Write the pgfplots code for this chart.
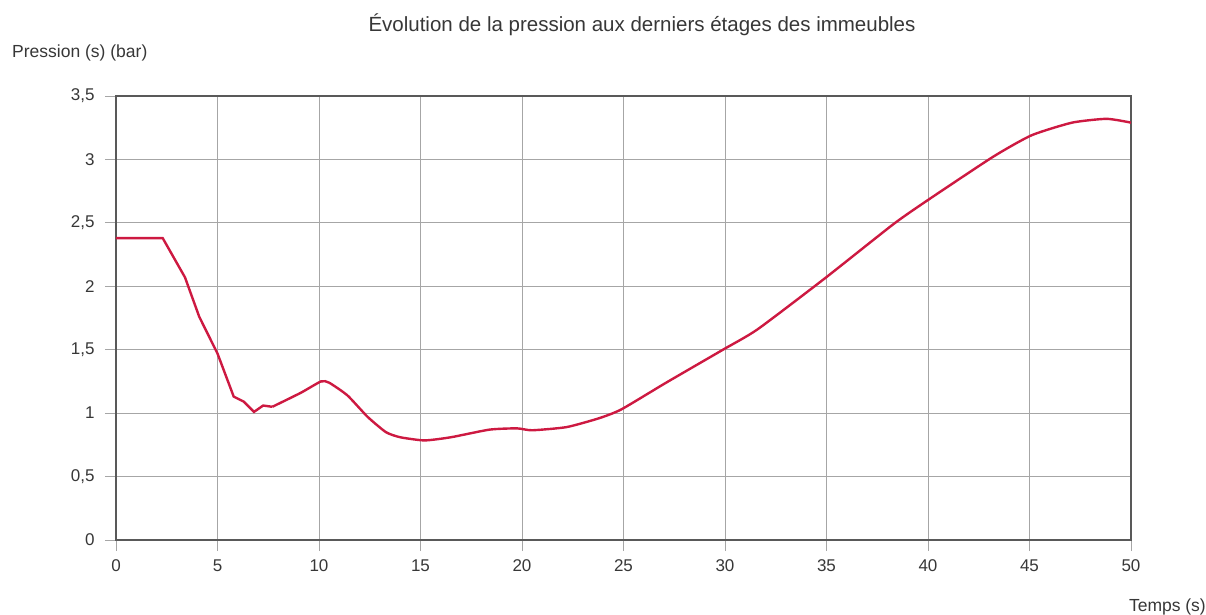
\documentclass[border=0pt]{standalone}
\usepackage{pgfplots}
\pgfplotsset{compat=1.18}
\usepackage{fontspec}
\setmainfont{Liberation Sans}
\definecolor{curve}{RGB}{205,25,65}
\definecolor{txt}{RGB}{55,55,55}
\begin{document}
\begin{tikzpicture}
\useasboundingbox (-116pt,-75pt) rectangle (1090pt,540pt);
\begin{axis}[
  at={(0pt,0pt)}, anchor=south west,
  scale only axis, width=1015pt, height=444pt,
  xmin=0, xmax=50, ymin=0, ymax=3.5,
  xtick={0,5,...,50}, ytick={0,0.5,...,3.5},
  xtick pos=bottom, ytick pos=left,
  yticklabels={0,{0,5},1,{1,5},2,{2,5},3,{3,5}},
  grid=major, major grid style={gray!70, line width=0.8pt},
  axis line style={draw=black!65, line width=2.5pt},
  tick style={gray!70, line width=0.8pt},
  tick align=outside, major tick length=11pt,
  ticklabel style={font=\fontsize{17}{19}\selectfont, text=txt},
  /pgf/number format/assume math mode=true,
  yticklabel style={xshift=-7pt},
  xticklabel style={yshift=-5pt},
]
\addplot[curve, line width=2.4pt] coordinates {
(0,2.38) (2.3,2.38) (3.4,2.07) (4.1,1.76) (5.0,1.47) (5.8,1.13) (6.3,1.09)
(6.8,1.01) (7.25,1.06) (7.7,1.05)
};
\addplot[curve, line width=2.4pt, smooth, tension=0.35] coordinates {
(7.7,1.05) (9.1,1.16) (10.1,1.25) (10.5,1.24)
(11.4,1.14) (12.4,0.97) (13.3,0.85) (14.0,0.81) (15.2,0.785) (16.5,0.81)
(18.4,0.87) (19.75,0.88) (20.5,0.865) (22.2,0.89) (23.8,0.96) (24.9,1.03)
(27.1,1.24) (29.9,1.5) (31.6,1.66) (34.9,2.06) (38.3,2.49) (40.0,2.68)
(43.2,3.02) (45.1,3.19) (47.1,3.29) (48.8,3.32) (50,3.29)
};
\end{axis}
\node[text=txt, font=\fontsize{20.5}{23}\selectfont] at (526pt,515pt) {Évolution de la pression aux derniers étages des immeubles};
\node[text=txt, anchor=west, inner sep=0pt, font=\fontsize{17.5}{20}\selectfont] at (-104pt,487pt) {Pression (s) (bar)};
\node[text=txt, anchor=east, inner sep=0pt, font=\fontsize{17.5}{20}\selectfont] at (1090pt,-67pt) {Temps (s)};
\end{tikzpicture}
\end{document}
